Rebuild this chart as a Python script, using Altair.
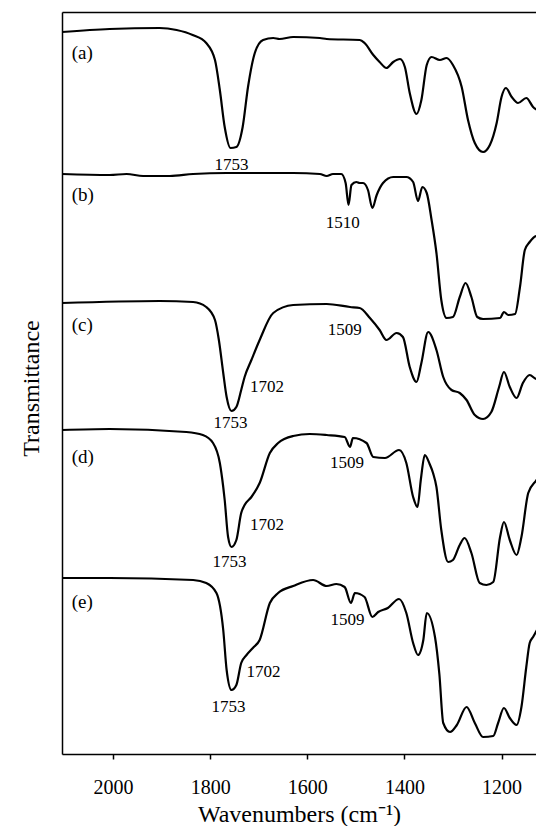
import altair as alt
import pandas as pd

# ---- spectra (wavenumber in cm-1, transmittance in arbitrary offset units) ----
a_wn = [2105, 2007, 1904, 1869, 1836, 1808, 1790, 1780, 1770, 1758, 1746, 1733, 1722, 1708, 1691, 1670, 1657,
        1629, 1574, 1560, 1492, 1482, 1464, 1451, 1437, 1423, 1409, 1399, 1389, 1375, 1365, 1354, 1344, 1327,
        1313, 1300, 1282, 1269, 1255, 1238, 1224, 1210, 1200, 1191, 1179, 1166, 1149, 1135, 1114, 1100]
a_val = [722, 725, 726, 724, 719, 711, 694, 664, 627, 606, 607, 627, 667, 701, 714, 716, 715,
         717, 716, 715, 714, 711, 699, 692, 686, 692, 695, 687, 661, 640, 654, 689, 697, 694,
         696, 689, 667, 634, 611, 602, 609, 631, 657, 666, 657, 651, 656, 647, 641, 637]

b_wn = [2105, 2007, 1972, 1938, 1883, 1835, 1766, 1698, 1629, 1574, 1560, 1547, 1530, 1521, 1515, 1509, 1499,
        1492, 1485, 1475, 1466, 1457, 1444, 1423, 1396, 1382, 1372, 1363, 1354, 1344, 1334, 1324, 1313, 1300,
        1286, 1274, 1262, 1250, 1238, 1203, 1195, 1186, 1172, 1162, 1152, 1142, 1128, 1114, 1100]
b_val = [580, 579, 580, 578, 578, 580, 581, 581, 581, 580, 578, 580, 580, 571, 549, 569, 572,
         571, 571, 564, 546, 559, 571, 577, 577, 572, 553, 567, 561, 534, 501, 454, 436, 437,
         457, 471, 457, 437, 435, 436, 442, 439, 440, 467, 504, 512, 518, 518, 518]

c_wn = [2105, 1904, 1835, 1808, 1790, 1782, 1773, 1766, 1756, 1746, 1736, 1729, 1715, 1698, 1670, 1629, 1560,
        1512, 1492, 1471, 1451, 1437, 1416, 1403, 1389, 1375, 1365, 1351, 1334, 1320, 1303, 1286, 1272, 1255,
        1238, 1221, 1205, 1195, 1183, 1169, 1156, 1142, 1128, 1114, 1100]
c_val = [451, 453, 452, 447, 434, 414, 381, 357, 343, 347, 364, 377, 394, 414, 441, 449, 450,
         447, 446, 436, 424, 414, 421, 417, 387, 372, 391, 422, 404, 377, 364, 361, 354, 339,
         335, 342, 367, 382, 367, 356, 371, 379, 375, 375, 375]

d_wn = [2105, 2007, 1849, 1815, 1794, 1780, 1773, 1770, 1763, 1756, 1746, 1736, 1729, 1715, 1698, 1677, 1660,
        1629, 1595, 1560, 1523, 1512, 1506, 1478, 1464, 1440, 1411, 1396, 1382, 1373, 1366, 1358, 1348, 1341,
        1334, 1324, 1310, 1300, 1286, 1276, 1262, 1245, 1231, 1217, 1203, 1195, 1183, 1169, 1159, 1145, 1128,
        1114, 1100]
d_val = [324, 325, 322, 319, 311, 291, 267, 254, 217, 207, 214, 241, 249, 257, 271, 301, 311,
         318, 320, 319, 317, 307, 316, 311, 297, 296, 304, 291, 257, 247, 275, 299, 290, 281,
         267, 224, 192, 194, 209, 216, 201, 171, 169, 172, 217, 232, 214, 199, 217, 261, 274,
         284, 290]

e_wn = [2105, 2007, 1835, 1808, 1787, 1773, 1766, 1756, 1746, 1736, 1725, 1712, 1698, 1677, 1660, 1629, 1588,
        1560, 1540, 1523, 1510, 1502, 1482, 1466, 1454, 1434, 1411, 1396, 1382, 1372, 1361, 1354, 1337, 1328,
        1320, 1306, 1292, 1272, 1255, 1238, 1217, 1207, 1195, 1183, 1169, 1159, 1149, 1142, 1135, 1114, 1100]
e_val = [176, 176, 174, 171, 161, 124, 84, 64, 69, 91, 99, 106, 114, 151, 161, 168, 174,
         168, 170, 167, 151, 161, 157, 137, 142, 146, 155, 141, 111, 99, 114, 141, 117, 80,
         31, 22, 29, 47, 31, 17, 18, 31, 46, 36, 29, 47, 87, 111, 117, 134, 140]

# ---- annotations ----
panel_text = ["(a)", "(b)", "(c)", "(d)", "(e)"]
panel_wn = [2085, 2085, 2085, 2085, 2085]
panel_val = [701, 559, 429, 297, 152]

peak_text = ["1753", "1510", "1509", "1753", "1509", "1753", "1509", "1753"]
peak_wn = [1756, 1527, 1523, 1758, 1518, 1760, 1517, 1762]
peak_val = [589, 531, 424, 331, 291, 192, 134, 47]

shoulder_text = ["1702", "1702", "1702"]
shoulder_wn = [1718, 1718, 1725]
shoulder_val = [367, 229, 82]

x_ticks = [2000, 1800, 1600, 1400, 1200]

frames = []
for name, wn, val in [("a", a_wn, a_val), ("b", b_wn, b_val), ("c", c_wn, c_val),
                      ("d", d_wn, d_val), ("e", e_wn, e_val)]:
    frames.append(pd.DataFrame({"wn": wn, "val": val, "trace": name}))
spectra = pd.concat(frames, ignore_index=True)

panels = pd.DataFrame({"wn": panel_wn, "val": panel_val, "label": panel_text})
peaks = pd.DataFrame({"wn": peak_wn, "val": peak_val, "label": peak_text})
shoulders = pd.DataFrame({"wn": shoulder_wn, "val": shoulder_val, "label": shoulder_text})

FONT = "Liberation Serif"
x_scale = alt.Scale(domain=[1129, 2105], reverse=True, nice=False, zero=False)
y_scale = alt.Scale(domain=[0, 742], nice=False, zero=False)

x_bottom = alt.X("wn:Q", scale=x_scale, axis=alt.Axis(
    values=x_ticks, format="d", title="Wavenumbers (cm\u207b\u00b9)", grid=False,
    tickSize=5, tickColor="black", domainColor="black", domainWidth=1.5, tickWidth=1.5,
    labelFont=FONT, labelFontSize=20, labelColor="black", labelPadding=18,
    titleFont=FONT, titleFontSize=24, titleFontWeight="normal", titleColor="black",
    titleBaseline="alphabetic", titleY=67))
x_top = alt.X("wn:Q", scale=x_scale, axis=alt.Axis(
    orient="top", labels=False, ticks=False, grid=False, title="",
    domainColor="black", domainWidth=1.5))
x_none = alt.X("wn:Q", scale=x_scale, axis=None)
y_enc = alt.Y("val:Q", scale=y_scale, axis=alt.Axis(
    title="Transmittance", labels=False, ticks=False, grid=False,
    domainColor="black", domainWidth=1.5,
    titleFont=FONT, titleFontSize=24, titleFontWeight="normal", titleColor="black",
    titleAngle=270, titleBaseline="alphabetic", titleAlign="center", titleX=-24, titleY=376))
y_plain = alt.Y("val:Q", scale=y_scale)

lines = alt.Chart(spectra).mark_line(color="black", strokeWidth=2.2, interpolate="monotone",
                                     clip=True).encode(
    x=x_bottom, y=y_enc, detail="trace:N", order=alt.Order("wn:Q", sort="descending"))

panel_txt = alt.Chart(panels).mark_text(font=FONT, fontSize=19, align="left", baseline="middle",
                                        color="black").encode(
    x=x_top, y=y_plain, text="label:N")
peak_txt = alt.Chart(peaks).mark_text(font=FONT, fontSize=17, align="center", baseline="middle",
                                      color="black").encode(
    x=x_none, y=y_plain, text="label:N")
shoulder_txt = alt.Chart(shoulders).mark_text(font=FONT, fontSize=17, align="left", baseline="middle",
                                              color="black").encode(
    x=x_none, y=y_plain, text="label:N")

chart = alt.layer(lines, panel_txt, peak_txt, shoulder_txt).resolve_axis(x="independent").properties(
    width=474, height=742,
    autosize=alt.AutoSizeParams(type="none"),
    padding={"left": 54, "top": 4, "right": 0, "bottom": 72},
).configure_view(strokeOpacity=0).configure(background="white")

chart.save("out.html", embed_options={"renderer": "svg", "actions": False})
